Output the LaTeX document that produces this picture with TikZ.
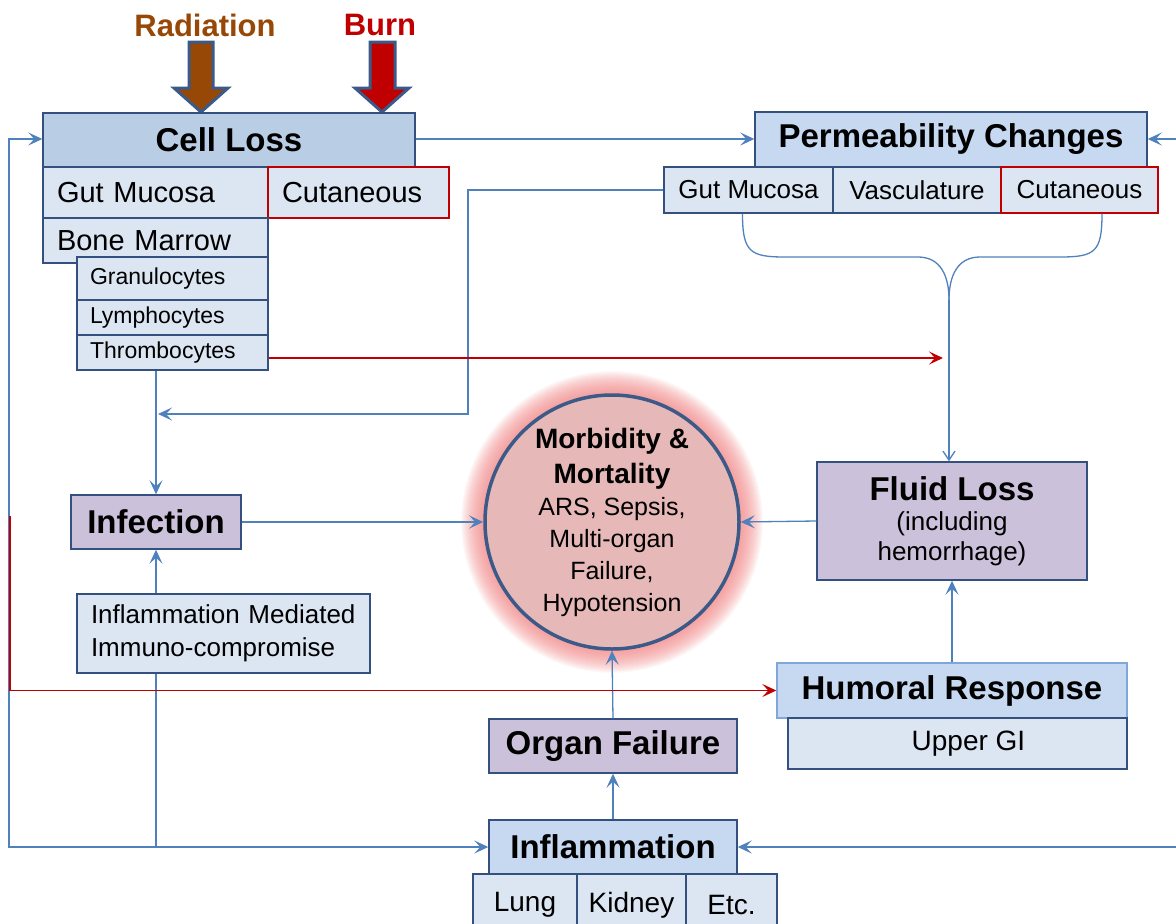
\documentclass[tikz,border=0pt]{standalone}
\usepackage{fontspec}
\setmainfont{Liberation Sans}
\usetikzlibrary{arrows.meta,backgrounds}
\definecolor{hdrA}{HTML}{B9CDE5}
\definecolor{hdrB}{HTML}{C6D9F1}
\definecolor{subc}{HTML}{DCE6F2}
\definecolor{purp}{HTML}{CCC1DA}
\definecolor{bord}{HTML}{34507E}
\definecolor{lbord}{HTML}{7FA7DC}
\definecolor{connc}{HTML}{4F81BD}
\definecolor{redc}{HTML}{C00000}
\definecolor{brown}{HTML}{974806}
\definecolor{circf}{HTML}{E6B8B7}
\definecolor{glowc}{HTML}{F08080}
\definecolor{arrbord}{HTML}{3C5A88}
\begin{document}
\begin{tikzpicture}[x=1pt,y=-1pt,
  box/.style={draw=bord, line width=1.4pt, inner sep=0pt, align=center},
  lbox/.style={box, align=left, inner xsep=14pt},
  hfont/.style={font=\bfseries\fontsize{33}{38}\selectfont},
  conn/.style={draw=connc, line width=1.3pt},
  arr/.style={conn, -{Stealth[length=14pt,width=13pt,inset=6pt]}},
  rarr/.style={draw=redc, line width=1.3pt, -{Stealth[length=14pt,width=13pt,inset=6pt]}},
  blockarr/.style={draw=arrbord, line width=3pt, line join=miter}]
\useasboundingbox (0,0) rectangle (1176,924);
\clip (0,0) rectangle (1176,924);

% top labels
\node[text=brown, font=\bfseries\fontsize{31}{36}\selectfont] (rad) at (205,25) {Radiation};
\node[text=redc, font=\bfseries\fontsize{31}{36}\selectfont] (burn) at (380,25) {Burn};
\path[blockarr, fill=brown] (189,42) -- (213,42) -- (213,88) -- (228,88) -- (201,112) -- (174,88) -- (189,88) -- cycle;
\path[blockarr, fill=redc] (370,42) -- (395,42) -- (395,88) -- (409,88) -- (382,112) -- (355,88) -- (370,88) -- cycle;

% Cell loss group
\node[box, fill=hdrA, minimum width=372pt, minimum height=54pt, hfont] (cell) at (229,140) {Cell Loss};
\node[lbox, fill=subc, minimum width=225pt, minimum height=51pt, text width=197pt, font=\fontsize{29}{34}\selectfont] (cgut) at (155.5,192.5) {Gut Mucosa};
\node[lbox, draw=redc, fill=subc, minimum width=181pt, minimum height=51pt, text width=153pt, font=\fontsize{29}{34}\selectfont] (ccut) at (358.5,192.5) {Cutaneous};
\node[lbox, fill=subc, minimum width=225pt, minimum height=45pt, text width=197pt, font=\fontsize{29}{34}\selectfont] (cbone) at (155.5,240.5) {Bone Marrow};
\node[lbox, inner xsep=13pt, fill=subc, minimum width=191pt, minimum height=43pt, text width=165pt, font=\fontsize{23}{27}\selectfont] (gran) at (172.5,278.5) {Granulocytes};
\node[lbox, inner xsep=13pt, fill=subc, minimum width=191pt, minimum height=35pt, text width=165pt, font=\fontsize{23}{27}\selectfont] (lymph) at (172.5,317.5) {Lymphocytes};
\node[lbox, inner xsep=13pt, fill=subc, minimum width=191pt, minimum height=35pt, text width=165pt, font=\fontsize{23}{27}\selectfont] (thromb) at (172.5,352.5) {Thrombocytes};

% Permeability group
\node[box, fill=hdrB, minimum width=392pt, minimum height=55pt, hfont] (perm) at (951,139.5) {Permeability Changes};
\node[box, fill=subc, minimum width=169pt, minimum height=46pt, font=\fontsize{26}{30}\selectfont] (pgut) at (748.5,190) {Gut Mucosa};
\node[box, fill=subc, minimum width=168pt, minimum height=46pt, font=\fontsize{26}{30}\selectfont] (pvas) at (917,190) {Vasculature};
\node[box, draw=redc, fill=subc, minimum width=157pt, minimum height=46pt, font=\fontsize{26}{30}\selectfont] (pcut) at (1079.5,190) {Cutaneous};

% Infection
\node[box, fill=purp, minimum width=170pt, minimum height=54pt, hfont] (inf) at (156,522) {Infection};
\node[lbox, fill=subc, minimum width=293pt, minimum height=79pt, text width=265pt, font=\fontsize{26}{33}\selectfont] (imm) at (223.5,633.5) {Inflammation Mediated\\Immuno-compromise};

% central circle
\node[circle, draw=arrbord, line width=3.5pt, fill=circf, minimum size=254pt, inner sep=0pt] (circ) at (612,522)
 {\parbox{158pt}{\centering
  \bfseries\fontsize{28}{35}\selectfont Morbidity \&\\Mortality\par
  \mdseries\fontsize{25}{32}\selectfont ARS, Sepsis,\\Multi-organ\\Failure,\\Hypotension\par}};
\begin{pgfonlayer}{background}
\foreach \i in {1,...,24} {
  \pgfmathsetmacro\rr{127+\i}
  \fill[glowc, opacity=0.055] (612,522) circle[radius=\rr pt];
}
\end{pgfonlayer}

% Fluid loss
\node[box, fill=purp, minimum width=270pt, minimum height=118pt] (fluid) at (952,521)
 {\parbox{250pt}{\centering
  \bfseries\fontsize{33}{38}\selectfont Fluid Loss\par
  \mdseries\fontsize{26}{30}\selectfont (including\\hemorrhage)\par}};

% Humoral
\node[box, draw=lbord, fill=hdrB, minimum width=350pt, minimum height=55pt, hfont] (hum) at (952,690.5) {Humoral Response};
\node[box, fill=subc, minimum width=339pt, minimum height=51pt, font=\fontsize{28}{32}\selectfont] (upper) at (957.5,743.5) {\hspace*{22pt}Upper GI};

% Organ failure, inflammation
\node[box, fill=purp, minimum width=248pt, minimum height=54pt, hfont] (organ) at (613,746) {Organ Failure};
\node[box, fill=hdrB, minimum width=248pt, minimum height=54pt, hfont] (inflam) at (613,847) {Inflammation};
\node[box, fill=subc, minimum width=104pt, minimum height=62pt, font=\fontsize{28}{32}\selectfont] (lung) at (525,905) {Lung};
\node[box, fill=subc, minimum width=109pt, minimum height=62pt, font=\fontsize{28}{32}\selectfont] (kid) at (631.5,905) {Kidney};
\node[box, fill=subc, minimum width=91pt, minimum height=62pt, font=\fontsize{28}{32}\selectfont] (etc) at (731.5,905) {Etc.};

% free ends
\coordinate (rightA) at (1176,139);
\coordinate (rightB) at (1176,847);
\coordinate (leftC) at (9,847);
\coordinate (redS) at (10,516);
\coordinate (joinB) at (949,300);
\coordinate (bjoin) at (943,358);
\coordinate (loopJ) at (156,847);
\coordinate (pturn) at (468,414);
\coordinate (ptip) at (158,414);

% connectors
\draw[arr] (cell.east |- 0,139) -- (perm.west |- 0,139);
\draw[arr] (rightA) -- (perm.east |- rightA);
\draw[arr] (rightB) -- (inflam.east);
\draw[arr] (loopJ) -- (leftC) |- (cell.west |- 0,139);
\draw[arr] (inf.south |- imm.south) |- (inflam.west);
\draw[arr] (inf.south |- imm.north) -- (inf.south);
\draw[arr] (thromb.south -| inf.north) -- (inf.north);
\draw[arr] (pgut.west) -| (pturn) -- (ptip);
\draw[arr] (inf.east) -- (circ.west);
\draw[arr] (fluid.west) -- (circ.east);
\draw[arr] (organ.north) -- (circ.south);
\draw[arr] (inflam.north) -- (organ.south);
\draw[arr] (hum.north) -- (fluid.south);
\draw[rarr] (thromb.east |- bjoin) -- (bjoin);
\draw[rarr] (redS) |- (hum.west);
% brace from permeability sub-boxes
\draw[conn] ([xshift=-6pt]pgut.south) .. controls (742.5,252) and (750,257) .. (785,257) -- (918,257) .. controls (940,257) and (949,275) .. (joinB);
\draw[conn] ([xshift=22.5pt]pcut.south) .. controls (1102,252) and (1095,257) .. (1060,257) -- (980,257) .. controls (958,257) and (949,275) .. (joinB);
\draw[conn, -{Straight Barb[length=9pt,width=12pt]}] (joinB) -- (fluid.north -| joinB);
\end{tikzpicture}
\end{document}
